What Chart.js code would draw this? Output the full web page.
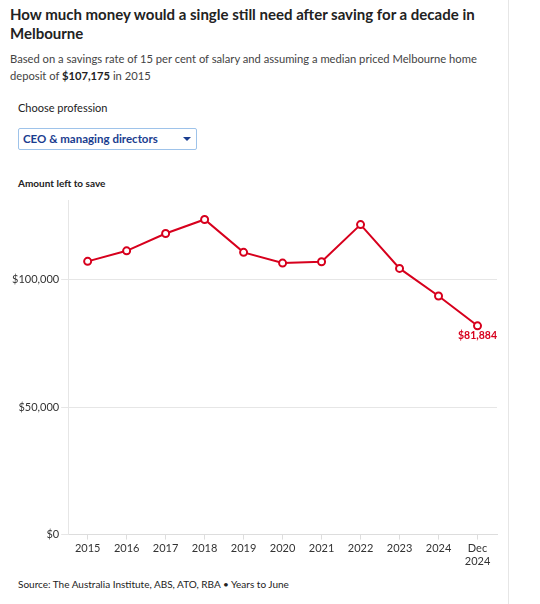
<!DOCTYPE html>
<html>
<head>
<meta charset="utf-8">
<script src="https://cdn.jsdelivr.net/npm/chart.js@4"></script>
<style>
  body { margin: 0; background: #fff; font-family: Lato, sans-serif; color: #222; }
  .wrap { position: relative; width: 508px; height: 604px; border-right: 1px solid #e6e6e6; }
  h1 { position: absolute; left: 10px; top: 5px; width: 496px; margin: 0; font-size: 15px; line-height: 19px; font-weight: 700; }
  .sub { position: absolute; left: 10px; top: 50px; width: 496px; font-size: 11.2px; line-height: 17px; color: #444; }
  .sub b { color: #222; }
  .lbl { position: absolute; left: 18px; top: 101px; font-size: 11px; color: #222; }
  .sel { position: absolute; left: 18px; top: 128px; width: 179px; height: 22px; border: 1px solid #9ec3ea; border-radius: 2px; box-sizing: border-box; }
  .sel span { position: absolute; left: 4px; top: 3px; font-size: 11.5px; font-weight: 700; color: #1a3d8f; }
  .sel i { position: absolute; right: 5px; top: 8px; width: 0; height: 0; border-left: 4px solid transparent; border-right: 4px solid transparent; border-top: 4px solid #1a3d8f; }
  .ylab { position: absolute; left: 18px; top: 177px; font-size: 10px; font-weight: 700; color: #222; }
  .box { position: absolute; left: 0; top: 192px; width: 508px; height: 378px; }
  .src { position: absolute; left: 18px; top: 578px; font-size: 10px; color: #222; }
</style>
</head>
<body>
<div class="wrap">
  <h1>How much money would a single still need after saving for a decade in Melbourne</h1>
  <div class="sub">Based on a savings rate of 15 per cent of salary and assuming a median priced Melbourne home deposit of <b>$107,175</b> in 2015</div>
  <div class="lbl">Choose profession</div>
  <div class="sel"><span>CEO &amp; managing directors</span><i></i></div>
  <div class="ylab">Amount left to save</div>
  <div class="box"><canvas id="chart"></canvas></div>
  <div class="src">Source: The Australia Institute, ABS, ATO, RBA • Years to June</div>
</div>
<script>
const years = ['2015', '2016', '2017', '2018', '2019', '2020', '2021', '2022', '2023', '2024', ['Dec', '2024']];
const amountLeft = [107175, 111300, 118100, 123600, 110700, 106500, 107000, 121600, 104400, 93600, 81884];
const yTicks = [0, 50000, 100000];

const red = '#d7001d';

const lastLabel = {
    id: 'lastLabel',
    afterDatasetsDraw(chart) {
        const ctx = chart.ctx;
        const i = amountLeft.length - 1;
        const x = chart.scales.x.getPixelForValue(i);
        const y = chart.scales.y.getPixelForValue(amountLeft[i]);
        ctx.save();
        ctx.fillStyle = red;
        ctx.font = '700 10.5px Lato';
        ctx.textAlign = 'center';
        ctx.textBaseline = 'top';
        ctx.fillText('$' + amountLeft[i].toLocaleString('en-US'), x, y + 5);
        ctx.restore();
    }
};

new Chart(document.getElementById('chart'), {
    type: 'line',
    data: {
        labels: years,
        datasets: [{
            data: amountLeft,
            borderColor: red,
            borderWidth: 2,
            pointRadius: 3.5,
            pointBorderWidth: 2,
            pointBackgroundColor: '#fff',
            pointBorderColor: red,
            tension: 0
        }]
    },
    options: {
        responsive: true,
        maintainAspectRatio: false,
        animation: false,
        layout: { padding: { top: 7, right: 11, left: 10, bottom: 0 } },
        plugins: {
            legend: { display: false },
            tooltip: { enabled: false }
        },
        scales: {
            x: {
                offset: true,
                grid: { drawOnChartArea: false, drawTicks: true, tickLength: 5, color: '#ddd' },
                border: { color: '#ddd' },
                ticks: { color: '#333', font: { family: 'Lato', size: 11 }, maxRotation: 0, autoSkip: false, padding: 2 }
            },
            y: {
                min: 0,
                max: 131000,
                afterBuildTicks: axis => { axis.ticks = yTicks.map(v => ({ value: v })); },
                grid: { color: '#e6e6e6', tickLength: 7 },
                border: { color: '#e6e6e6' },
                ticks: {
                    color: '#333',
                    font: { family: 'Lato', size: 11 },
                    padding: 2,
                    callback: v => '$' + v.toLocaleString('en-US')
                }
            }
        }
    },
    plugins: [lastLabel]
});
</script>
</body>
</html>
